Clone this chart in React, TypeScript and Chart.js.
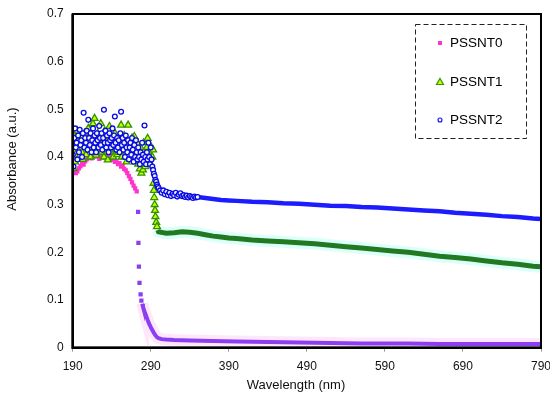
import React, { useEffect, useRef } from "react";
import { Chart, registerables } from "chart.js";
Chart.register(...registerables);

const FONT = '"Liberation Sans", Arial, sans-serif';

const seriesNames = ["PSSNT0", "PSSNT1", "PSSNT2"];
const xAxisTitle = "Wavelength (nm)";
const yAxisTitle = "Absorbance (a.u.)";

// PSSNT0 — plateau before the drop
const t0PeakWl = [190,192,194,196,198,200,202,204,206,208,210,212,214,216,218,220,222,224,226,228,230,232,234,236,238,240,242,244,246,248,250,252,254,256,258,260,262,264,266,268,270,272];
const t0PeakAbs = [0.385,0.372,0.366,0.370,0.376,0.381,0.386,0.384,0.391,0.395,0.398,0.402,0.397,0.405,0.408,0.401,0.406,0.396,0.402,0.409,0.399,0.403,0.406,0.398,0.401,0.394,0.399,0.390,0.392,0.385,0.387,0.380,0.382,0.375,0.372,0.366,0.360,0.354,0.347,0.340,0.334,0.328];
// PSSNT0 — sharp drop
const t0DropWl = [273.8,274.2,274.8,275.6,277,278];
const t0DropAbs = [0.285,0.22,0.17,0.136,0.112,0.099];
// PSSNT0 — tail
const t0TailWl = [279,280,281,282,284,286,288,290,292,294,296,298,300,304,310,320,340,370,400,440,480,520,560,620,660,720,790];
const t0TailAbs = [0.092,0.086,0.081,0.076,0.067,0.058,0.050,0.043,0.037,0.031,0.026,0.022,0.020,0.018,0.017,0.016,0.015,0.014,0.013,0.012,0.011,0.010,0.009,0.009,0.008,0.008,0.008];

// PSSNT1 — noisy region
const t1NoisyWl = [190,191,192,193,194,195,196,197,198,199,200,201,202,203,204,205,206,207,208,209,210,211,212,213,214,215,216,217,218,219,220,221,222,223,224,225,226,227,228,229,230,231,232,233,234,235,236,237,238,239,240,241,242,243,244,245,246,247,248,249,250,251,252,253,254,255,256,257,258,259,260,261,262,263,264,265,266,267,268,269,270,271,272,273,274,275,276,277,278,279,280,281,282,283,284,285,286,287,288,289,290,291,292,293,293.5,294,294.5,295,295.5,296,297,298];
const t1NoisyAbs = [0.450,0.376,0.420,0.390,0.430,0.400,0.455,0.415,0.400,0.440,0.425,0.443,0.410,0.395,0.430,0.450,0.420,0.405,0.440,0.425,0.460,0.415,0.430,0.400,0.445,0.420,0.470,0.430,0.481,0.410,0.404,0.435,0.450,0.415,0.440,0.425,0.470,0.410,0.445,0.430,0.400,0.455,0.420,0.435,0.410,0.394,0.440,0.464,0.425,0.410,0.445,0.430,0.400,0.420,0.450,0.415,0.435,0.405,0.415,0.440,0.425,0.410,0.467,0.400,0.430,0.415,0.445,0.400,0.425,0.390,0.435,0.467,0.410,0.430,0.395,0.420,0.440,0.405,0.425,0.443,0.390,0.415,0.400,0.429,0.385,0.410,0.375,0.420,0.366,0.400,0.373,0.430,0.395,0.380,0.408,0.420,0.439,0.390,0.410,0.400,0.385,0.420,0.400,0.415,0.345,0.330,0.315,0.300,0.288,0.275,0.263,0.254];
// PSSNT1 — smooth band
const t1BandWl = [299,300,310,320,330,340,350,360,370,380,390,400,420,440,460,480,500,520,540,560,580,600,620,640,660,680,700,720,740,760,780,790];
const t1BandAbs = [0.247,0.243,0.240,0.241,0.243,0.242,0.240,0.237,0.234,0.232,0.230,0.229,0.226,0.224,0.222,0.220,0.218,0.215,0.212,0.209,0.206,0.203,0.200,0.196,0.192,0.189,0.186,0.182,0.178,0.175,0.171,0.170];

// PSSNT2 — noisy region
const t2NoisyWl = [190,191,192,193,194,195,196,197,198,199,200,201,202,203,204,205,206,207,208,209,210,211,212,213,214,215,216,217,218,219,220,221,222,223,224,225,226,227,228,229,230,231,232,233,234,235,236,237,238,239,240,241,242,243,244,245,246,247,248,249,250,251,252,253,254,255,256,257,258,259,260,261,262,263,264,265,266,267,268,269,270,271,272,273,274,275,276,277,278,279,280,281,282,283,284,285,286,287,288,289,290,291,292,293,294,295,296,297,298,299,300,302,304,306,308,310,312,314,316,318,320,322,324,326,328,330,332,334,336,338,340,342,344,346,348,350];
const t2NoisyAbs = [0.405,0.380,0.440,0.460,0.420,0.430,0.395,0.445,0.410,0.457,0.425,0.435,0.400,0.450,0.493,0.420,0.440,0.430,0.455,0.415,0.478,0.440,0.425,0.450,0.410,0.435,0.460,0.420,0.445,0.430,0.410,0.450,0.435,0.420,0.465,0.440,0.425,0.450,0.415,0.440,0.499,0.430,0.455,0.420,0.445,0.430,0.410,0.450,0.435,0.420,0.440,0.460,0.425,0.445,0.485,0.430,0.415,0.440,0.420,0.435,0.410,0.450,0.495,0.425,0.440,0.415,0.430,0.400,0.445,0.420,0.410,0.435,0.395,0.420,0.430,0.405,0.440,0.415,0.390,0.425,0.400,0.435,0.410,0.395,0.420,0.400,0.385,0.410,0.395,0.430,0.405,0.390,0.466,0.400,0.385,0.410,0.395,0.430,0.400,0.385,0.420,0.395,0.380,0.373,0.365,0.360,0.352,0.348,0.342,0.338,0.335,0.330,0.325,0.330,0.322,0.327,0.320,0.325,0.318,0.323,0.320,0.325,0.317,0.321,0.324,0.318,0.320,0.316,0.319,0.315,0.318,0.316,0.314,0.317,0.315,0.316];
// PSSNT2 — smooth band
const t2BandWl = [346,350,360,370,380,390,400,420,440,460,480,500,520,540,560,580,600,620,640,660,680,700,720,740,760,780,790];
const t2BandAbs = [0.316,0.316,0.314,0.312,0.310,0.309,0.308,0.306,0.305,0.303,0.302,0.300,0.298,0.297,0.295,0.294,0.292,0.290,0.288,0.286,0.283,0.281,0.279,0.276,0.274,0.271,0.270];

const PINK = "#ff33cc";
const PURPLE = "#8c3ff0";
const GREEN_FILL = "#ccff00";
const GREEN_EDGE = "#2f9400";
const GREEN_BAND = "#217a21";
const BLUE = "#0a0ae6";
const BLUE_BAND = "#1c1cff";

const pts = (xs: number[], ys: number[]) => xs.map((x, i) => ({ x, y: ys[i] }));

const overlayPlugin = {
  id: "overlay",
  afterDraw(chart: any) {
    const { ctx, chartArea } = chart;
    const { left, right, top, bottom } = chartArea;
    ctx.save();
    // frame
    ctx.strokeStyle = "#000";
    ctx.lineWidth = 2;
    ctx.strokeRect(left, top, right - left, bottom - top);
    ctx.lineWidth = 2.5;
    ctx.beginPath();
    ctx.moveTo(left, top);
    ctx.lineTo(left, bottom);
    ctx.lineTo(right, bottom);
    ctx.stroke();

    // axis titles
    ctx.fillStyle = "#111";
    ctx.font = `13px ${FONT}`;
    ctx.textAlign = "center";
    ctx.textBaseline = "middle";
    ctx.fillText(xAxisTitle, 296, 385.7);
    ctx.save();
    ctx.translate(12.5, 159);
    ctx.rotate(-Math.PI / 2);
    ctx.fillText(yAxisTitle, 0, 0);
    ctx.restore();

    // legend box
    ctx.setLineDash([5, 3]);
    ctx.lineWidth = 1;
    ctx.strokeStyle = "#222";
    ctx.strokeRect(415.5, 24.5, 111, 114);
    ctx.setLineDash([]);
    const rows = [43, 82, 120];
    const mx = 440;
    // square
    ctx.fillStyle = PINK;
    ctx.fillRect(mx - 2, rows[0] - 2, 4, 4);
    // triangle
    ctx.beginPath();
    ctx.moveTo(mx, rows[1] - 3.5);
    ctx.lineTo(mx + 3.5, rows[1] + 2.5);
    ctx.lineTo(mx - 3.5, rows[1] + 2.5);
    ctx.closePath();
    ctx.fillStyle = GREEN_FILL;
    ctx.fill();
    ctx.strokeStyle = GREEN_EDGE;
    ctx.lineWidth = 1.2;
    ctx.stroke();
    // circle
    ctx.beginPath();
    ctx.arc(mx, rows[2], 2, 0, Math.PI * 2);
    ctx.fillStyle = "#fff";
    ctx.fill();
    ctx.strokeStyle = BLUE;
    ctx.lineWidth = 1.1;
    ctx.stroke();

    ctx.fillStyle = "#000";
    ctx.font = `13.5px ${FONT}`;
    ctx.textAlign = "left";
    ctx.textBaseline = "middle";
    seriesNames.forEach((n, i) => ctx.fillText(n, 450, rows[i] + 0.5));
    ctx.restore();
  },
};

export default function App() {
  const ref = useRef<HTMLCanvasElement>(null);
  useEffect(() => {
    document.body.style.margin = "0";
    const chart = new Chart(ref.current as HTMLCanvasElement, {
      type: "scatter",
      data: {
        datasets: [
          // halos
          {
            data: pts(t1BandWl, t1BandAbs),
            showLine: true,
            borderColor: "rgba(210,255,248,0.8)",
            borderWidth: 12,
            pointRadius: 0,
            order: 20,
          },
          {
            data: pts(t0TailWl, t0TailAbs),
            showLine: true,
            borderColor: "rgba(255,225,250,0.8)",
            borderWidth: 12,
            pointRadius: 0,
            order: 20,
          },
          // bands
          {
            data: pts(t1BandWl, t1BandAbs),
            showLine: true,
            borderColor: GREEN_BAND,
            borderWidth: 5,
            pointRadius: 0,
            order: 10,
          },
          {
            data: pts(t2BandWl, t2BandAbs),
            showLine: true,
            borderColor: BLUE_BAND,
            borderWidth: 4.5,
            pointRadius: 0,
            order: 10,
          },
          {
            data: pts(t0TailWl, t0TailAbs),
            showLine: true,
            borderColor: PURPLE,
            borderWidth: 4,
            pointRadius: 0,
            order: 10,
          },
          // PSSNT0 scatter
          {
            label: seriesNames[0],
            data: pts(t0PeakWl, t0PeakAbs),
            pointStyle: "rect",
            pointRadius: 3,
            backgroundColor: PINK,
            borderColor: PINK,
            borderWidth: 0,
            order: 6,
          },
          {
            data: pts(t0DropWl, t0DropAbs),
            pointStyle: "rect",
            pointRadius: 3,
            backgroundColor: PURPLE,
            borderColor: PURPLE,
            borderWidth: 0,
            order: 6,
          },
          // PSSNT1 scatter
          {
            label: seriesNames[1],
            data: pts(t1NoisyWl, t1NoisyAbs),
            pointStyle: "triangle",
            pointRadius: 4,
            backgroundColor: GREEN_FILL,
            borderColor: GREEN_EDGE,
            borderWidth: 1.3,
            order: 4,
          },
          // PSSNT2 scatter
          {
            label: seriesNames[2],
            data: pts(t2NoisyWl, t2NoisyAbs),
            pointStyle: "circle",
            pointRadius: 2.4,
            backgroundColor: "rgba(255,255,255,0.9)",
            borderColor: BLUE,
            borderWidth: 1.3,
            order: 2,
          },
        ],
      },
      options: {
        animation: false,
        responsive: false,
        events: [],
        layout: { padding: { top: 14, right: 9, left: 0, bottom: 0 } },
        plugins: { legend: { display: false }, tooltip: { enabled: false } },
        scales: {
          x: {
            type: "linear",
            min: 190,
            max: 790,
            ticks: {
              stepSize: 100,
              autoSkip: false,
              maxRotation: 0,
              padding: 8,
              color: "#111",
              font: { family: FONT, size: 12 },
            },
            grid: { drawOnChartArea: false, drawTicks: true, tickLength: 4, color: "#999" },
            border: { display: true, color: "#000", width: 2 },
            afterFit: (s: any) => {
              s.height = 51.3;
              s.paddingLeft = 0;
              s.paddingRight = 0;
            },
          },
          y: {
            type: "linear",
            min: 0,
            max: 0.7,
            ticks: {
              stepSize: 0.1,
              padding: 9,
              color: "#111",
              font: { family: FONT, size: 12 },
            },
            grid: { display: false, drawTicks: false },
            border: { display: true, color: "#000", width: 2 },
            afterFit: (s: any) => {
              s.width = 72.7;
              s.paddingTop = 0;
              s.paddingBottom = 0;
            },
          },
        },
      },
      plugins: [overlayPlugin],
    } as any);
    return () => chart.destroy();
  }, []);
  return (
    <div style={{ width: 550, height: 399 }}>
      <canvas ref={ref} width={550} height={399} style={{ display: "block" }} />
    </div>
  );
}
